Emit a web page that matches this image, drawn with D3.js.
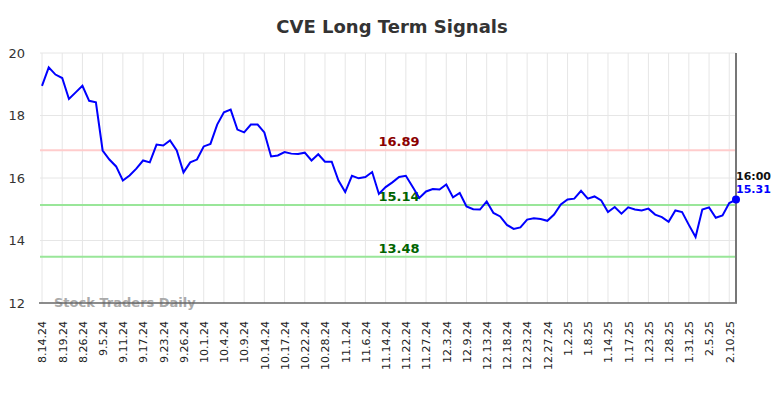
<!DOCTYPE html>
<html>
<head>
<meta charset="utf-8">
<script src="https://cdn.jsdelivr.net/npm/d3@7"></script>
<style>
  body { margin: 0; background: #fff; font-family: "DejaVu Sans", sans-serif; }
</style>
</head>
<body>
<div id="chart"></div>
<script>
// closing prices, one per trading point
const prices = [
  18.95, 19.54, 19.31, 19.2, 18.53, 18.74, 18.95, 18.47, 18.42, 16.88,
  16.59, 16.37, 15.92, 16.08, 16.3, 16.56, 16.5, 17.07, 17.04, 17.2,
  16.88, 16.18, 16.5, 16.59, 17.01, 17.09, 17.71, 18.1, 18.19, 17.55,
  17.46, 17.71, 17.71, 17.46, 16.69, 16.72, 16.83, 16.78, 16.77, 16.81,
  16.56, 16.76, 16.52, 16.52, 15.92, 15.55, 16.07, 15.99, 16.03, 16.19,
  15.49, 15.71, 15.86, 16.03, 16.07, 15.72, 15.36, 15.57, 15.65, 15.63,
  15.79, 15.38, 15.52, 15.09, 15.0, 14.99, 15.25, 14.88, 14.77, 14.5,
  14.37, 14.42, 14.67, 14.71, 14.69, 14.63, 14.83, 15.15, 15.31, 15.34,
  15.59, 15.34, 15.41, 15.28, 14.91, 15.07, 14.86, 15.06, 14.99, 14.96,
  15.02, 14.83, 14.75, 14.6, 14.96, 14.91, 14.5, 14.11, 14.99, 15.06,
  14.73, 14.8, 15.2, 15.31
];
// every third point carries a date label
const tickLabels = [
  "8.14.24", "8.19.24", "8.26.24", "9.5.24", "9.11.24", "9.17.24", "9.23.24",
  "9.26.24", "10.1.24", "10.4.24", "10.9.24", "10.14.24", "10.17.24", "10.22.24",
  "10.28.24", "11.1.24", "11.6.24", "11.14.24", "11.22.24", "11.27.24", "12.3.24",
  "12.9.24", "12.13.24", "12.18.24", "12.23.24", "12.27.24", "1.2.25", "1.8.25",
  "1.14.25", "1.17.25", "1.23.25", "1.28.25", "1.31.25", "2.5.25", "2.10.25"
];
const yTicks = [12, 14, 16, 18, 20];
const levels = [16.89, 15.14, 13.48];
const levelKind = ["resist", "support", "support"];
const lastTime = "16:00";

const width = 784, height = 398;
const margin = {top: 53, right: 48, bottom: 95, left: 42};

const svg = d3.select('#chart').append('svg')
  .attr('width', width)
  .attr('height', height);

const x = d3.scaleLinear()
  .domain([0, prices.length - 1])
  .range([margin.left, width - margin.right]);
const y = d3.scaleLinear()
  .domain([12, 20])
  .range([height - margin.bottom, margin.top]);

const tickIdx = tickLabels.map((d, i) => i * 3);

// grid
svg.append('g')
  .selectAll('line.v')
  .data(tickIdx)
  .enter().append('line')
    .attr('x1', d => x(d)).attr('x2', d => x(d))
    .attr('y1', margin.top).attr('y2', y(12))
    .style('stroke', '#e6e6e6').style('stroke-width', 1);
svg.append('g')
  .selectAll('line.h')
  .data(yTicks.filter(d => d > 12))
  .enter().append('line')
    .attr('x1', margin.left - 2).attr('x2', x(prices.length - 1))
    .attr('y1', d => y(d)).attr('y2', d => y(d))
    .style('stroke', '#e6e6e6').style('stroke-width', 1);

// y axis labels
const yAxis = svg.append('g')
  .attr('transform', `translate(${margin.left},0)`)
  .call(d3.axisLeft(y).tickValues(yTicks).tickSize(0).tickPadding(17));
yAxis.select('.domain').remove();
yAxis.selectAll('text')
  .style('font-size', '13px')
  .style('font-family', '"DejaVu Sans", sans-serif')
  .style('fill', '#333');

// x axis labels
const xAxis = svg.append('g')
  .attr('transform', `translate(0,${y(12)})`)
  .call(d3.axisBottom(x).tickValues(tickIdx).tickFormat((d, i) => tickLabels[i]).tickSize(0));
xAxis.select('.domain').remove();
xAxis.selectAll('text')
  .attr('transform', 'rotate(-90)')
  .attr('text-anchor', 'end')
  .attr('x', -18)
  .attr('y', 0)
  .attr('dy', '0.35em')
  .style('font-size', '11px')
  .style('font-family', '"DejaVu Sans", sans-serif')
  .style('fill', '#222');

// watermark
svg.append('text')
  .attr('x', 54).attr('y', y(12) + 4)
  .text('Stock Traders Daily')
  .style('font-size', '13px')
  .style('font-weight', 'bold')
  .style('fill', '#aaa');

// signal levels
levels.forEach((v, i) => {
  svg.append('line')
    .attr('x1', margin.left - 2).attr('x2', x(prices.length - 1))
    .attr('y1', y(v)).attr('y2', y(v))
    .style('stroke', levelKind[i] === 'resist' ? '#ffcccc' : '#99e699')
    .style('stroke-width', 2);
  svg.append('text')
    .attr('x', 399).attr('y', y(v) - 4)
    .attr('text-anchor', 'middle')
    .text(v.toFixed(2))
    .style('font-size', '13px')
    .style('font-weight', 'bold')
    .style('fill', levelKind[i] === 'resist' ? '#8b0000' : '#006400');
});

// bottom + right frame
svg.append('line')
  .attr('x1', margin.left - 3).attr('x2', x(prices.length - 1) + 1)
  .attr('y1', y(12)).attr('y2', y(12))
  .style('stroke', '#666').style('stroke-width', 1.5);
svg.append('line')
  .attr('x1', x(prices.length - 1)).attr('x2', x(prices.length - 1))
  .attr('y1', margin.top).attr('y2', y(12))
  .style('stroke', '#777').style('stroke-width', 2);

// price line
const line = d3.line()
  .x((d, i) => x(i))
  .y(d => y(d));
svg.append('path')
  .datum(prices)
  .attr('d', line)
  .style('fill', 'none')
  .style('stroke', '#0000ff')
  .style('stroke-width', 2);

const last = prices.length - 1;
svg.append('circle')
  .attr('cx', x(last)).attr('cy', y(prices[last]))
  .attr('r', 4)
  .style('fill', '#0000ff');
svg.append('text')
  .attr('x', x(last)).attr('y', y(prices[last]) - 20)
  .text(lastTime)
  .style('font-size', '11px').style('font-weight', 'bold').style('fill', '#111');
svg.append('text')
  .attr('x', x(last)).attr('y', y(prices[last]) - 7)
  .text(prices[last].toFixed(2))
  .style('font-size', '11px').style('font-weight', 'bold').style('fill', '#0000ff');

// title
svg.append('text')
  .attr('x', width / 2).attr('y', 33)
  .attr('text-anchor', 'middle')
  .text('CVE Long Term Signals')
  .style('font-size', '18px')
  .style('font-weight', 'bold')
  .style('fill', '#333');
</script>
</body>
</html>
